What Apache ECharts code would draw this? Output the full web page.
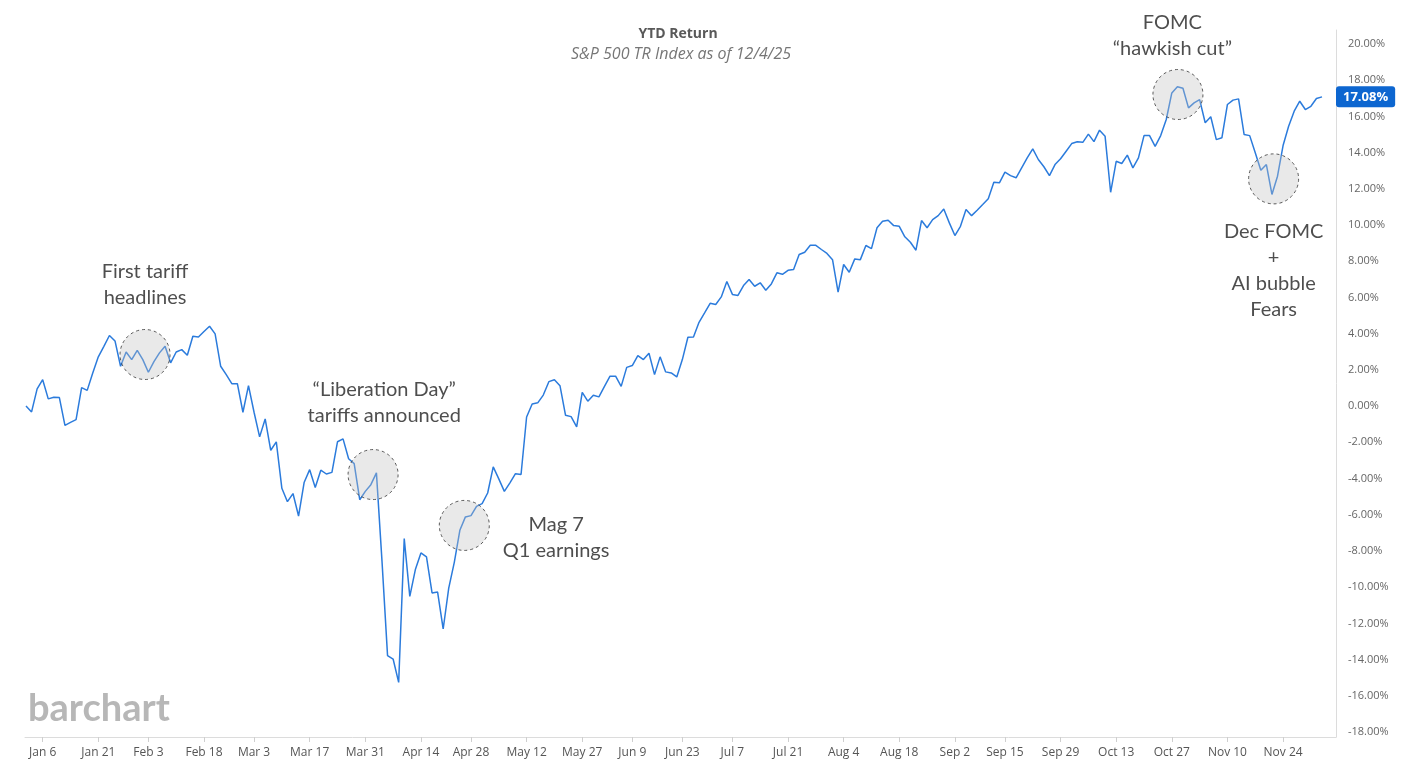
<!DOCTYPE html>
<html>
<head>
<meta charset="utf-8">
<style>
html,body{margin:0;padding:0;background:#fff;}
#chart{width:1407px;height:777px;}
</style>
<script src="https://cdn.jsdelivr.net/npm/echarts@6/dist/echarts.min.js"></script>
</head>
<body>
<div id="chart"></div>
<script>
// ---- DATA ----
// trading days from Dec 31, 2024 to Dec 4, 2025 (market closed days removed; Jan 9 kept as in source)
const startDate = '2024-12-31';
const endDate = '2025-12-04';
const closedDays = ['2025-01-01','2025-01-20','2025-02-17','2025-04-18','2025-05-26','2025-06-19','2025-07-04','2025-09-01','2025-11-27'];

// YTD total return, percent, one value per trading day
const ytdReturn = [
  0, -0.32, 0.95, 1.46, 0.40, 0.49, 0.47, -1.06, -0.90, -0.75,
  1.02, 0.87, 1.83, 2.72, 3.30, 3.90, 3.60, 2.20, 2.99, 2.57,
  3.08, 2.57, 1.87, 2.46, 2.94, 3.30, 2.39, 2.99, 3.12, 2.81,
  3.86, 3.82, 4.12, 4.41, 3.99, 2.20, 1.74, 1.24, 1.24, -0.34,
  1.13, -0.34, -1.70, -0.71, -2.44, -1.98, -4.54, -5.28, -4.83, -6.07,
  -4.22, -3.51, -4.50, -3.54, -3.75, -3.66, -1.97, -1.81, -2.91, -3.18,
  -5.17, -4.71, -4.34, -3.69, -8.55, -13.78, -13.97, -15.26, -7.32, -10.51,
  -9.03, -8.11, -8.33, -10.32, -10.27, -12.31, -10.05, -8.63, -6.86, -6.12,
  -6.05, -5.54, -5.39, -4.80, -3.36, -4.02, -4.71, -4.24, -3.73, -3.78,
  -0.60, 0.12, 0.18, 0.61, 1.35, 1.46, 1.13, -0.51, -0.58, -1.15,
  0.76, 0.27, 0.60, 0.51, 1.09, 1.65, 1.65, 1.09, 2.14, 2.24,
  2.79, 2.57, 2.92, 1.74, 2.72, 1.89, 1.83, 1.61, 2.57, 3.80,
  3.82, 4.63, 5.15, 5.68, 5.61, 6.03, 6.88, 6.17, 6.11, 6.66,
  6.99, 6.62, 6.81, 6.40, 6.75, 7.36, 7.28, 7.50, 7.54, 8.37,
  8.50, 8.88, 8.88, 8.65, 8.43, 8.09, 6.29, 7.82, 7.39, 8.13,
  8.09, 8.87, 8.70, 9.85, 10.21, 10.27, 9.97, 9.93, 9.35, 9.05,
  8.61, 10.25, 9.85, 10.30, 10.52, 10.89, 10.12, 9.42, 9.93, 10.86,
  10.52, 10.82, 11.13, 11.45, 12.36, 12.33, 12.92, 12.73, 12.61, 13.16,
  13.71, 14.21, 13.62, 13.22, 12.73, 13.34, 13.66, 14.08, 14.50, 14.60,
  14.57, 15.02, 14.61, 15.24, 14.91, 11.81, 13.52, 13.40, 13.86, 13.16,
  13.71, 14.94, 14.94, 14.35, 14.94, 15.83, 17.30, 17.64, 17.56, 16.47,
  16.75, 16.93, 15.65, 15.98, 14.72, 14.82, 16.66, 16.90, 16.97, 15.00,
  14.94, 13.99, 13.03, 13.34, 11.69, 12.70, 14.39, 15.46, 16.29, 16.84,
  16.38, 16.56, 16.99, 17.08
];

const xTickLabels = ['Jan 6','Jan 21','Feb 3','Feb 18','Mar 3','Mar 17','Mar 31','Apr 14','Apr 28','May 12','May 27','Jun 9','Jun 23','Jul 7','Jul 21','Aug 4','Aug 18','Sep 2','Sep 15','Sep 29','Oct 13','Oct 27','Nov 10','Nov 24'];
const yMin = -18, yMax = 20, yStep = 2;
const lastValueLabel = 17.08;
const titleText = 'YTD Return';
const subtitleText = 'S&P 500 TR Index as of 12/4/25';

// annotation circles: [trading-day index, value]
const circleSpots = [[21.4, 2.85], [62.4, -3.78], [78.8, -6.59], [207.1, 17.21], [224.3, 12.55]];
// annotation texts: [trading-day index, value, text]
const noteTexts = [
  [21.4, 6.71, 'First tariff\nheadlines'],
  [64.4, 0.17, '\u201cLiberation Day\u201d\ntariffs announced'],
  [95.3, -7.27, 'Mag 7\nQ1 earnings'],
  [206.1, 20.45, 'FOMC\n\u201chawkish cut\u201d'],
  [224.3, 7.49, 'Dec FOMC\n+\nAI bubble\nFears']
];

// ---- build categories ----
const monthNames = ['Jan','Feb','Mar','Apr','May','Jun','Jul','Aug','Sep','Oct','Nov','Dec'];
function iso(d){return d.toISOString().slice(0,10);}
const categories = [];
for (let d = new Date(startDate + 'T00:00:00Z'); iso(d) <= endDate; d.setUTCDate(d.getUTCDate()+1)) {
  const wd = d.getUTCDay();
  if (wd === 0 || wd === 6) continue;
  if (closedDays.includes(iso(d))) continue;
  categories.push(monthNames[d.getUTCMonth()] + ' ' + d.getUTCDate());
}
const lastIndex = categories.length - 1;

const chart = echarts.init(document.getElementById('chart'));
const plotL = 26, plotR = 85, frameR = 71;
const showTick = function (i, v) { return xTickLabels.includes(v); };
const titleX = 678;

const option = {
  animation: false,
  backgroundColor: '#fff',
  grid: [
    {left: plotL, right: plotR, top: 44, bottom: 45},   // plot area
    {left: plotL, right: frameR, top: 44, bottom: 45},  // value labels
    {left: 25, right: frameR, top: 30, bottom: 40},     // frame lines
    {left: plotL, right: plotR, top: 30, bottom: 40}    // date ticks/labels
  ],
  xAxis: [
    {type: 'category', gridIndex: 0, data: categories, boundaryGap: false, show: false},
    {type: 'value', gridIndex: 0, min: 0, max: lastIndex, show: false},
    {type: 'value', gridIndex: 1, min: 0, max: 1, show: false},
    {type: 'value', gridIndex: 2, min: 0, max: 1,
      axisLine: {show: true, onZero: false, lineStyle: {color: '#dcdcdc', width: 1}},
      axisTick: {show: false}, axisLabel: {show: false}, splitLine: {show: false}},
    {
      type: 'category', gridIndex: 3, data: categories, boundaryGap: false,
      axisLine: {show: false},
      axisTick: {show: true, length: 5, lineStyle: {color: '#cfcfcf'}, interval: showTick},
      axisLabel: {show: true, color: '#555', fontFamily: 'Open Sans', fontSize: 12, margin: 10, interval: showTick},
      splitLine: {show: false}
    }
  ],
  yAxis: [
    {type: 'value', gridIndex: 0, min: yMin, max: yMax, show: false},
    {
      type: 'value', gridIndex: 1, position: 'right', min: yMin, max: yMax, interval: yStep,
      axisLine: {show: false}, axisTick: {show: false}, splitLine: {show: false},
      axisLabel: {color: '#666', fontFamily: 'Open Sans', fontSize: 11, margin: 12,
        formatter: function (v) { return v.toFixed(2) + '%'; }},
      axisPointer: {
        show: true, type: 'line', value: lastValueLabel, status: 'show', triggerTooltip: false,
        lineStyle: {opacity: 0, width: 0},
        handle: {show: false},
        label: {show: true, backgroundColor: '#0d66d0', color: '#fff', fontWeight: 'bold',
          fontFamily: 'Open Sans', fontSize: 13, padding: [4, 7, 4, 7], margin: 0,
          formatter: function (p) { return Number(p.value).toFixed(2) + '%'; }}
      }
    },
    {
      type: 'value', gridIndex: 2, position: 'right', min: 0, max: 1,
      axisLine: {show: true, onZero: false, lineStyle: {color: '#dcdcdc', width: 1}},
      axisTick: {show: false}, axisLabel: {show: false}, splitLine: {show: false}
    },
    {type: 'value', gridIndex: 3, min: 0, max: 1, show: false}
  ],
  graphic: [
    {type: 'text', x: titleX, y: 34, style: {text: titleText, fill: '#595959',
      font: 'bold 14px "Open Sans"', textAlign: 'center', textVerticalAlign: 'middle'}},
    {type: 'text', x: titleX + 3, y: 54, style: {text: subtitleText, fill: '#767676',
      font: 'italic 16px "Open Sans"', textAlign: 'center', textVerticalAlign: 'middle'}},
    {type: 'text', left: 28, top: 690, style: {text: 'barchart', fill: '#b7b7b7',
      font: 'bold 38px Lato'}}
  ],
  series: [
    {
      type: 'line', xAxisIndex: 0, yAxisIndex: 0, data: ytdReturn,
      showSymbol: false, symbol: 'none', z: 2,
      lineStyle: {color: '#2b7bdc', width: 1.5}
    },
    {
      type: 'scatter', xAxisIndex: 1, yAxisIndex: 0, data: circleSpots, z: 5, clip: false,
      symbol: 'circle', symbolSize: 50, silent: true,
      itemStyle: {color: 'rgba(195,195,195,0.45)', borderColor: '#333', borderWidth: 1, borderType: [3, 3]}
    },
    {
      type: 'scatter', xAxisIndex: 1, yAxisIndex: 0, z: 6, clip: false, silent: true,
      symbolSize: 0,
      data: noteTexts.map(function (t) { return {value: [t[0], t[1]], text: t[2]}; }),
      label: {show: true, position: 'inside', color: '#222', fontFamily: 'Lato', fontSize: 20,
        lineHeight: 26, align: 'center', verticalAlign: 'middle',
        formatter: function (p) { return p.data.text; }}
    }
  ]
};
chart.setOption(option);
</script>
</body>
</html>
